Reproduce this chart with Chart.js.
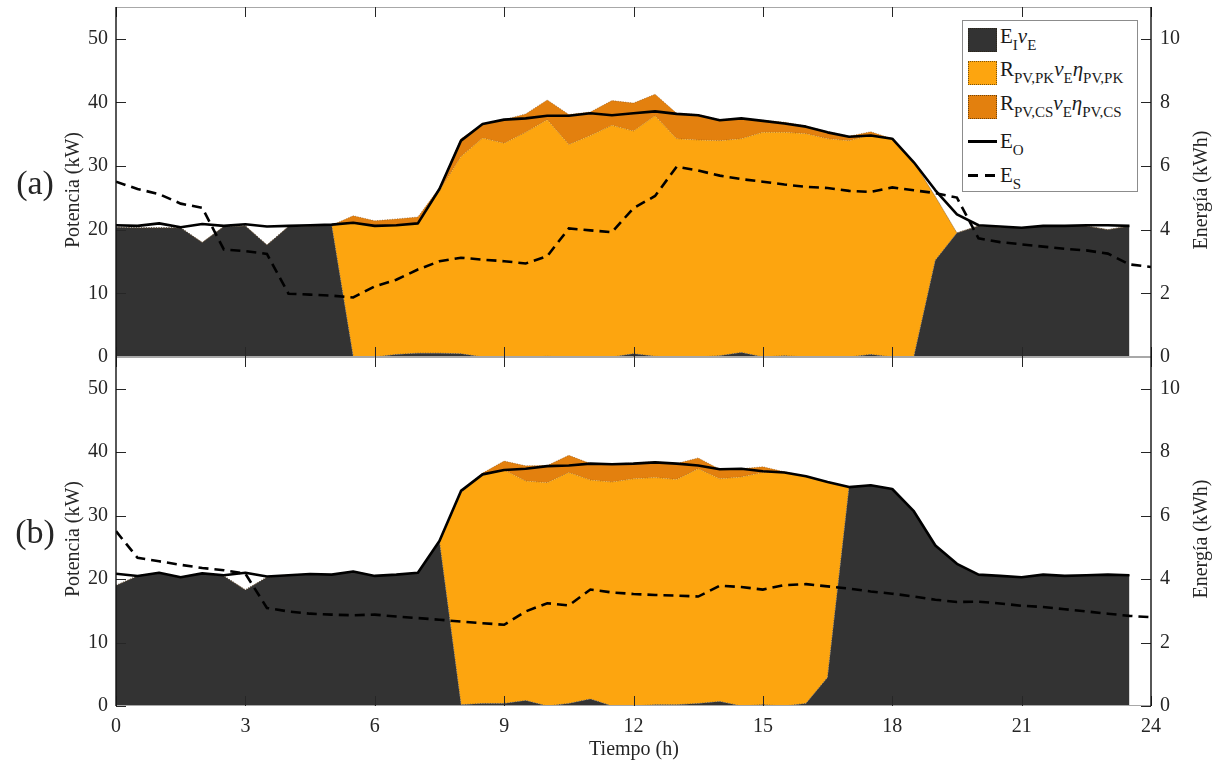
<!DOCTYPE html>
<html>
<head>
<meta charset="utf-8">
<script src="https://cdn.jsdelivr.net/npm/chart.js@4.4.1/dist/chart.umd.min.js"></script>
<style>
  body { margin: 0; background: #fff; }
  #wrap { position: relative; width: 1215px; height: 771px; font-family: "Liberation Serif", serif; color: #262626; }
  canvas { position: absolute; left: 0; }
  #chartA { top: 0; }
  #chartB { top: 357px; }
  .lbl { position: absolute; white-space: nowrap; transform: translate(-50%, -50%); font-size: 20px; line-height: 1; }
  .rot { transform: translate(-50%, -50%) rotate(-90deg); }
  .panel { font-size: 34px; }
  #legend { position: absolute; left: 962px; top: 20px; width: 176px; height: 172px; border: 1px solid #8c8c8c; background: #fff; box-sizing: border-box; }
  .patch { position: absolute; left: 5px; width: 29px; height: 24px; box-sizing: border-box; border: 1px dotted rgba(40,30,10,0.6); }
  .ltxt { position: absolute; left: 37px; font-size: 21px; line-height: 20px; white-space: nowrap; color: #1a1a1a; }
  .ltxt sub { font-size: 15px; vertical-align: -7px; line-height: 0; }
  .ltxt i { font-style: italic; }
  .lline { position: absolute; height: 3px; background: #000; }
</style>
</head>
<body>
<div id="wrap">
  <canvas id="chartA" width="1215" height="380"></canvas>
  <canvas id="chartB" width="1215" height="414"></canvas>

  <div class="lbl panel" style="left:35px; top:183px;">(a)</div>
  <div class="lbl panel" style="left:35px; top:532px;">(b)</div>
  <div class="lbl rot" style="left:72px; top:190px;">Potencia (kW)</div>
  <div class="lbl rot" style="left:72px; top:539px;">Potencia (kW)</div>
  <div class="lbl rot" style="left:1200px; top:190px;">Energía (kWh)</div>
  <div class="lbl rot" style="left:1200px; top:539px;">Energía (kWh)</div>
  <div class="lbl" style="left:634px; top:748px;">Tiempo (h)</div>

  <div id="legend">
    <div class="patch" style="top:7px; background:#333333;"></div>
    <div class="ltxt" style="top:5px;">E<sub>I</sub><i>ν</i><sub>E</sub></div>
    <div class="patch" style="top:40px; background:#FDA50F;"></div>
    <div class="ltxt" style="top:38px;">R<sub>PV,PK</sub><i>ν</i><sub>E</sub><i>η</i><sub>PV,PK</sub></div>
    <div class="patch" style="top:74px; background:#E3800E;"></div>
    <div class="ltxt" style="top:72px;">R<sub>PV,CS</sub><i>ν</i><sub>E</sub><i>η</i><sub>PV,CS</sub></div>
    <div class="lline" style="left:5px; width:29px; top:119px;"></div>
    <div class="ltxt" style="top:110px;">E<sub>O</sub></div>
    <div class="lline" style="left:5px; width:10px; top:153px;"></div>
    <div class="lline" style="left:22px; width:10px; top:153px;"></div>
    <div class="ltxt" style="top:144px;">E<sub>S</sub></div>
  </div>
</div>

<script>
// time axis (h)
const hours = [0,0.5,1,1.5,2,2.5,3,3.5,4,4.5,5,5.5,6,6.5,7,7.5,8,8.5,9,9.5,10,10.5,11,11.5,
               12,12.5,13,13.5,14,14.5,15,15.5,16,16.5,17,17.5,18,18.5,19,19.5,20,20.5,21,21.5,22,22.5,23,23.5];
const hoursS = [0,0.5,1,1.5,2,2.5,3,3.5,4,4.5,5,5.5,6,6.5,7,7.5,8,8.5,9,9.5,10,10.5,11,11.5,
               12,12.5,13,13.5,14,14.5,15,15.5,16,16.5,17,17.5,18,18.5,19,19.5,20,20.5,21,21.5,22,22.5,23,23.5,24];

const hourTicks = [0,3,6,9,12,15,18,21,24];
const kwTicks = [0,10,20,30,40,50];
const kwhTicks = [0,2,4,6,8,10];

// panel (a) - kW
const greyA = [20.4,20.3,20.3,20.3,18.0,20.5,20.6,17.6,20.5,20.6,20.7,0,
               0,0.4,0.6,0.6,0.5,0,0,0,0.1,0,0,0,
               0.5,0.1,0,0,0.2,0.7,0,0.2,0,0,0,0.4,
               0,0,15.2,19.5,20.6,20.4,20.3,20.6,20.6,20.6,20.0,20.6];
const pkA = [0,0,0,0,0,0,0,0,0,0,0,21.1,
             20.7,20.3,20.4,25.5,31.0,34.4,33.6,35.3,37.2,33.4,34.8,36.4,
             35.0,37.8,34.3,34.1,33.8,33.6,35.3,35.1,35.1,34.3,34.0,34.5,
             34.2,30.6,10.0,0,0,0,0,0,0,0,0,0];
const csA = [0,0,0,0,0,0,0,0,0,0,0,1.1,
             0.7,1.0,1.0,0.5,2.8,2.2,3.7,2.9,3.1,4.7,3.7,3.9,
             4.4,3.4,4.0,4.0,3.3,3.2,1.9,1.6,1.2,1.1,0.7,0.5,
             0.1,0,0,0,0,0,0,0,0,0,0,0];
const eoA = [20.7,20.6,21.0,20.4,20.9,20.6,20.85,20.5,20.6,20.7,20.8,21.1,
             20.6,20.7,21.0,26.4,34.0,36.6,37.3,37.5,37.9,37.9,38.3,38.0,
             38.3,38.6,38.2,38.0,37.2,37.5,37.1,36.7,36.2,35.3,34.6,34.8,
             34.3,30.6,26.2,22.4,20.7,20.5,20.3,20.6,20.6,20.7,20.7,20.6];
// panel (a) - kWh
const esA = [5.51,5.28,5.12,4.82,4.69,3.38,3.33,3.24,1.99,1.96,1.93,1.87,
             2.22,2.43,2.75,3.01,3.12,3.06,3.01,2.94,3.17,4.04,3.98,3.92,
             4.68,5.06,5.98,5.86,5.70,5.59,5.51,5.42,5.35,5.31,5.22,5.19,
             5.33,5.24,5.15,5.01,3.73,3.61,3.54,3.47,3.40,3.35,3.25,2.91,2.83];

// panel (b) - kW
const greyB = [19.0,20.5,21.0,20.2,20.85,20.5,18.3,20.3,20.6,20.8,20.7,21.2,
               20.5,20.7,21.0,25.9,0.2,0.4,0.4,0.85,0,0.4,1.1,0,
               0,0.2,0.2,0.4,0.7,0,0.2,0,0.4,4.5,34.5,34.8,
               34.2,30.7,25.3,22.4,20.6,20.5,20.3,20.7,20.5,20.6,20.7,20.6];
const pkB = [0,0,0,0,0,0,0,0,0,0,0,0,
             0,0,0,0,33.4,36.1,36.8,34.6,35.2,36.4,34.5,35.3,
             35.8,35.8,35.5,37.0,35.1,36.1,36.6,36.8,35.8,30.8,0,0,
             0,0,0,0,0,0,0,0,0,0,0,0];
const csB = [0,0,0,0,0,0,0,0,0,0,0,0,
             0,0,0,0,0.3,0.2,1.4,2.4,2.7,2.7,2.6,2.8,
             2.5,2.5,2.5,1.7,1.5,1.3,0.9,0.1,0,0,0,0,
             0,0,0,0,0,0,0,0,0,0,0,0];
const eoB = [20.85,20.5,21.0,20.3,20.9,20.6,21.0,20.4,20.6,20.8,20.7,21.2,
             20.5,20.7,21.0,26.0,33.9,36.5,37.2,37.4,37.8,37.9,38.2,38.1,
             38.2,38.4,38.2,37.9,37.3,37.4,37.0,36.8,36.2,35.3,34.5,34.8,
             34.2,30.7,25.3,22.4,20.7,20.5,20.3,20.7,20.5,20.6,20.7,20.6];
// panel (b) - kWh
const esB = [5.51,4.67,4.56,4.45,4.35,4.28,4.17,3.09,2.98,2.91,2.88,2.86,
             2.88,2.82,2.77,2.72,2.66,2.61,2.56,2.98,3.24,3.17,3.67,3.58,
             3.53,3.50,3.48,3.45,3.79,3.75,3.67,3.81,3.84,3.77,3.70,3.61,
             3.54,3.45,3.35,3.28,3.29,3.23,3.16,3.12,3.05,2.98,2.91,2.84,2.80];

const colGrey = '#333333';
const colPK = '#FDA50F';
const colCS = '#E3800E';
const tickFont = { family: 'Liberation Serif', size: 20 };
const tickColor = '#262626';

function pts(xs, ys) {
    return ys.map((v, i) => ({ x: xs[i], y: v }));
}

// axis lines and inward ticks, drawn like the original plot
const frame = {
    id: 'frame',
    afterDatasetsDraw(chart) {
        let ctx = chart.ctx;
        let a = chart.chartArea;
        let sx = chart.scales.x, sy = chart.scales.y, sy2 = chart.scales.y2;
        ctx.save();
        ctx.lineWidth = 1;
        ctx.strokeStyle = '#a8a8a8';
        ctx.beginPath();
        ctx.moveTo(a.left, a.top + 0.5); ctx.lineTo(a.right, a.top + 0.5);
        ctx.moveTo(a.left, a.bottom - 0.5); ctx.lineTo(a.right, a.bottom - 0.5);
        ctx.stroke();

        ctx.strokeStyle = '#262626';
        ctx.beginPath();
        hourTicks.forEach(v => {
            let px = Math.round(sx.getPixelForValue(v)) + 0.5;
            ctx.moveTo(px, a.bottom); ctx.lineTo(px, a.bottom - 10);
            ctx.moveTo(px, a.top); ctx.lineTo(px, a.top + 10);
        });
        kwTicks.forEach(v => {
            let py = Math.round(sy.getPixelForValue(v)) + 0.5;
            ctx.moveTo(a.left, py); ctx.lineTo(a.left + 10, py);
        });
        kwhTicks.forEach(v => {
            let py = Math.round(sy2.getPixelForValue(v)) + 0.5;
            ctx.moveTo(a.right, py); ctx.lineTo(a.right - 10, py);
        });
        ctx.stroke();

        ctx.lineWidth = 1.4;
        ctx.strokeStyle = '#111';
        ctx.beginPath();
        ctx.moveTo(a.left, a.top); ctx.lineTo(a.left, a.bottom);
        ctx.moveTo(a.right, a.top); ctx.lineTo(a.right, a.bottom);
        ctx.stroke();
        ctx.restore();
    }
};

function makeChart(id, grey, pk, cs, eo, es, showX) {
    let areaBorder = { borderWidth: 1, borderDash: [1, 1.5], pointRadius: 0, stack: 'area', yAxisID: 'y', order: 1 };
    let noGrid = { display: false, drawTicks: false, tickLength: 0 };
    return new Chart(document.getElementById(id), {
        type: 'line',
        data: {
            datasets: [
                Object.assign({ label: 'EI', data: pts(hours, grey), backgroundColor: colGrey, borderColor: 'rgba(70,70,70,0.8)', fill: 'origin' }, areaBorder),
                Object.assign({ label: 'PK', data: pts(hours, pk), backgroundColor: colPK, borderColor: 'rgba(120,80,20,0.55)', fill: '-1' }, areaBorder),
                Object.assign({ label: 'CS', data: pts(hours, cs), backgroundColor: colCS, borderColor: 'rgba(120,70,20,0.55)', fill: '-1' }, areaBorder),
                { label: 'EO', data: pts(hours, eo), borderColor: '#000', borderWidth: 2.6, fill: false, pointRadius: 0,
                  stack: 'eo', yAxisID: 'y', order: 0, borderJoinStyle: 'round' },
                { label: 'ES', data: pts(hoursS, es), borderColor: '#000', borderWidth: 2.6, borderDash: [10, 6], fill: false,
                  pointRadius: 0, yAxisID: 'y2', order: 0 }
            ]
        },
        options: {
            responsive: false,
            animation: false,
            layout: { padding: { top: showX ? 0 : 7, left: 0, right: 0, bottom: 0 } },
            elements: { line: { tension: 0 } },
            plugins: {
                legend: { display: false },
                tooltip: { enabled: false },
                filler: { drawTime: 'beforeDatasetsDraw' }
            },
            scales: {
                x: {
                    type: 'linear', min: 0, max: 24,
                    grid: noGrid, border: { display: false },
                    afterBuildTicks: s => { s.ticks = hourTicks.map(v => ({ value: v })); },
                    ticks: { display: showX, padding: 9, font: tickFont, color: tickColor, maxRotation: 0 },
                    afterFit: s => { s.height = showX ? 65 : 23; s.paddingLeft = 0; s.paddingRight = 0; }
                },
                y: {
                    position: 'left', min: 0, max: 55, stacked: true,
                    grid: noGrid, border: { display: false },
                    afterBuildTicks: s => { s.ticks = kwTicks.map(v => ({ value: v })); },
                    ticks: { padding: 8, font: tickFont, color: tickColor },
                    afterFit: s => { s.width = 116; s.paddingTop = 0; s.paddingBottom = 0; }
                },
                y2: {
                    position: 'right', min: 0, max: 11,
                    grid: noGrid, border: { display: false },
                    afterBuildTicks: s => { s.ticks = kwhTicks.map(v => ({ value: v })); },
                    ticks: { padding: 9, font: tickFont, color: tickColor },
                    afterFit: s => { s.width = 64; s.paddingTop = 0; s.paddingBottom = 0; }
                }
            }
        },
        plugins: [frame]
    });
}

makeChart('chartA', greyA, pkA, csA, eoA, esA, false);
makeChart('chartB', greyB, pkB, csB, eoB, esB, true);
</script>
</body>
</html>
